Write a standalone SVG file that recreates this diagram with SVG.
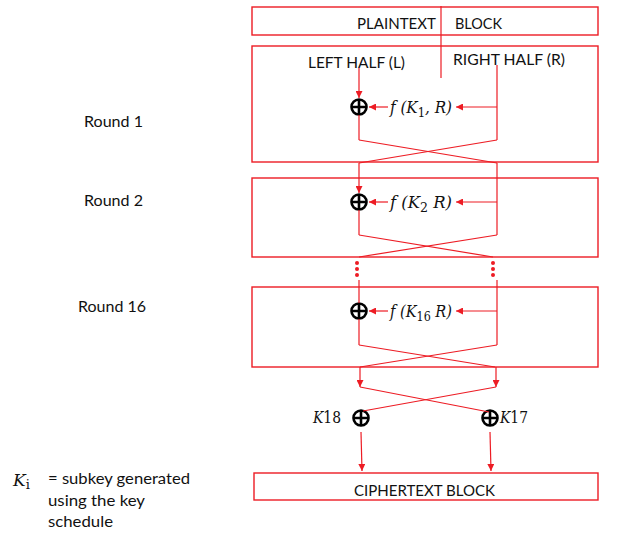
<svg xmlns="http://www.w3.org/2000/svg" width="626" height="538" viewBox="0 0 626 538">
<defs>
<style>
.box{fill:none;stroke:#ED1C24;stroke-width:1.4}
.ln{fill:none;stroke:#ED1C24;stroke-width:1.2}
.la{fill:none;stroke:#ED1C24;stroke-width:1.2;marker-end:url(#ah)}
.lbl{font-family:Lato,"Liberation Sans",sans-serif;font-size:15.5px;fill:#111}
.math{font-family:"DejaVu Serif","Liberation Serif",serif;font-style:italic;font-size:17px;fill:#111}
.sub{font-style:normal;font-size:13px}
.xc{fill:none;stroke:#000;stroke-width:2.6}
.dot{fill:#ED1C24}
</style>
<marker id="ah" viewBox="0 0 10 10" refX="10" refY="5" markerWidth="7" markerHeight="7" markerUnits="userSpaceOnUse" orient="auto">
<path d="M0,0 L10,5 L0,10 z" fill="#ED1C24"/>
</marker>
<g id="xor"><circle cx="0" cy="0" r="7.5" class="xc"/><path d="M-7.5,0 H7.5 M0,-7.5 V7.5" class="xc" stroke-width="2.2"/></g>
</defs>
<rect width="626" height="538" fill="#fff"/>

<g id="plaintext">
<rect x="252" y="7" width="346" height="28" class="box"/>
<text x="357" y="29" class="lbl" textLength="79" lengthAdjust="spacingAndGlyphs">PLAINTEXT</text>
<text x="455" y="29" class="lbl" textLength="47" lengthAdjust="spacingAndGlyphs">BLOCK</text>
</g>

<g id="round1">
<rect x="252" y="46" width="346" height="116" class="box"/>
<text x="308" y="68" class="lbl" textLength="97" lengthAdjust="spacingAndGlyphs">LEFT HALF (L)</text>
<text x="453" y="65" class="lbl" textLength="112" lengthAdjust="spacingAndGlyphs">RIGHT HALF (R)</text>
<use href="#xor" x="359" y="107"/>
<text x="390" y="113" class="math" textLength="62" lengthAdjust="spacingAndGlyphs">f (K<tspan class="sub" dy="4">1</tspan><tspan dy="-4">, R)</tspan></text>
</g>

<g id="round2">
<rect x="252" y="178" width="346" height="79" class="box"/>
<use href="#xor" x="359" y="202"/>
<text x="390" y="208" class="math" textLength="62" lengthAdjust="spacingAndGlyphs">f (K<tspan class="sub" dy="4">2</tspan><tspan dy="-4"> R)</tspan></text>
</g>

<g id="round16">
<rect x="252" y="287" width="346" height="80" class="box"/>
<use href="#xor" x="359" y="311"/>
<text x="390" y="317" class="math" textLength="62" lengthAdjust="spacingAndGlyphs">f (K<tspan class="sub" dy="4">16</tspan><tspan dy="-4"> R)</tspan></text>
</g>

<g id="xor-k18">
<use href="#xor" x="361" y="418"/>
<text x="313" y="423" class="math" font-size="15" textLength="28" lengthAdjust="spacingAndGlyphs">K<tspan font-style="normal">18</tspan></text>
</g>

<g id="xor-k17">
<use href="#xor" x="490" y="418"/>
<text x="500" y="423" class="math" font-size="15" textLength="28" lengthAdjust="spacingAndGlyphs">K<tspan font-style="normal">17</tspan></text>
</g>

<g id="ciphertext">
<rect x="254" y="473" width="344" height="27" class="box"/>
<text x="354" y="496" class="lbl" textLength="141" lengthAdjust="spacingAndGlyphs">CIPHERTEXT BLOCK</text>
</g>

<g id="labels">
<text x="84" y="127" class="lbl" textLength="59" lengthAdjust="spacingAndGlyphs">Round 1</text>
<text x="84" y="206" class="lbl" textLength="59" lengthAdjust="spacingAndGlyphs">Round 2</text>
<text x="78" y="312" class="lbl" textLength="68" lengthAdjust="spacingAndGlyphs">Round 16</text>
<text x="13" y="486" class="math" font-size="17">K<tspan class="sub" dy="3">i</tspan></text>
<text x="48" y="484" class="lbl" textLength="142" lengthAdjust="spacingAndGlyphs">= subkey generated</text>
<text x="48" y="506" class="lbl" textLength="97" lengthAdjust="spacingAndGlyphs">using the key</text>
<text x="48" y="527" class="lbl" textLength="65" lengthAdjust="spacingAndGlyphs">schedule</text>
</g>

<g id="connectors">
<line x1="441" y1="6" x2="441" y2="78" class="ln" stroke-width="1"/>
<line x1="359" y1="68" x2="359" y2="98" class="la"/>
<line x1="497" y1="65" x2="497" y2="140" class="ln"/>
<line x1="497" y1="107" x2="456" y2="107" class="la"/>
<line x1="388" y1="107" x2="369" y2="107" class="la"/>
<line x1="359" y1="115" x2="359" y2="140" class="ln"/>
<line x1="359" y1="140" x2="497" y2="163" class="ln"/>
<line x1="497" y1="140" x2="359" y2="163" class="ln"/>
<line x1="359" y1="163" x2="359" y2="193" class="la"/>
<line x1="497" y1="163" x2="497" y2="235" class="ln"/>
<line x1="497" y1="202" x2="456" y2="202" class="la"/>
<line x1="388" y1="202" x2="369" y2="202" class="la"/>
<line x1="359" y1="210" x2="359" y2="235" class="ln"/>
<line x1="359" y1="235" x2="493" y2="257" class="ln"/>
<line x1="497" y1="235" x2="359" y2="257" class="ln"/>
<circle cx="357" cy="263" r="2" class="dot"/>
<circle cx="357" cy="269" r="2" class="dot"/>
<circle cx="357" cy="275" r="2" class="dot"/>
<circle cx="493" cy="263" r="2" class="dot"/>
<circle cx="493" cy="269" r="2" class="dot"/>
<circle cx="493" cy="275" r="2" class="dot"/>
<line x1="359" y1="280" x2="359" y2="303" class="ln"/>
<line x1="497" y1="280" x2="497" y2="345" class="ln"/>
<line x1="497" y1="311" x2="456" y2="311" class="la"/>
<line x1="388" y1="311" x2="369" y2="311" class="la"/>
<line x1="359" y1="319" x2="359" y2="345" class="ln"/>
<line x1="359" y1="345" x2="495" y2="367" class="ln"/>
<line x1="497" y1="345" x2="360" y2="367" class="ln"/>
<line x1="360" y1="367" x2="360" y2="387" class="la"/>
<line x1="496" y1="367" x2="496" y2="387" class="la"/>
<line x1="360" y1="387" x2="489" y2="412" class="ln"/>
<line x1="496" y1="387" x2="363" y2="411" class="ln"/>
<line x1="361" y1="432" x2="362" y2="471" class="la"/>
<line x1="490" y1="432" x2="491" y2="471" class="la"/>
</g>
</svg>
